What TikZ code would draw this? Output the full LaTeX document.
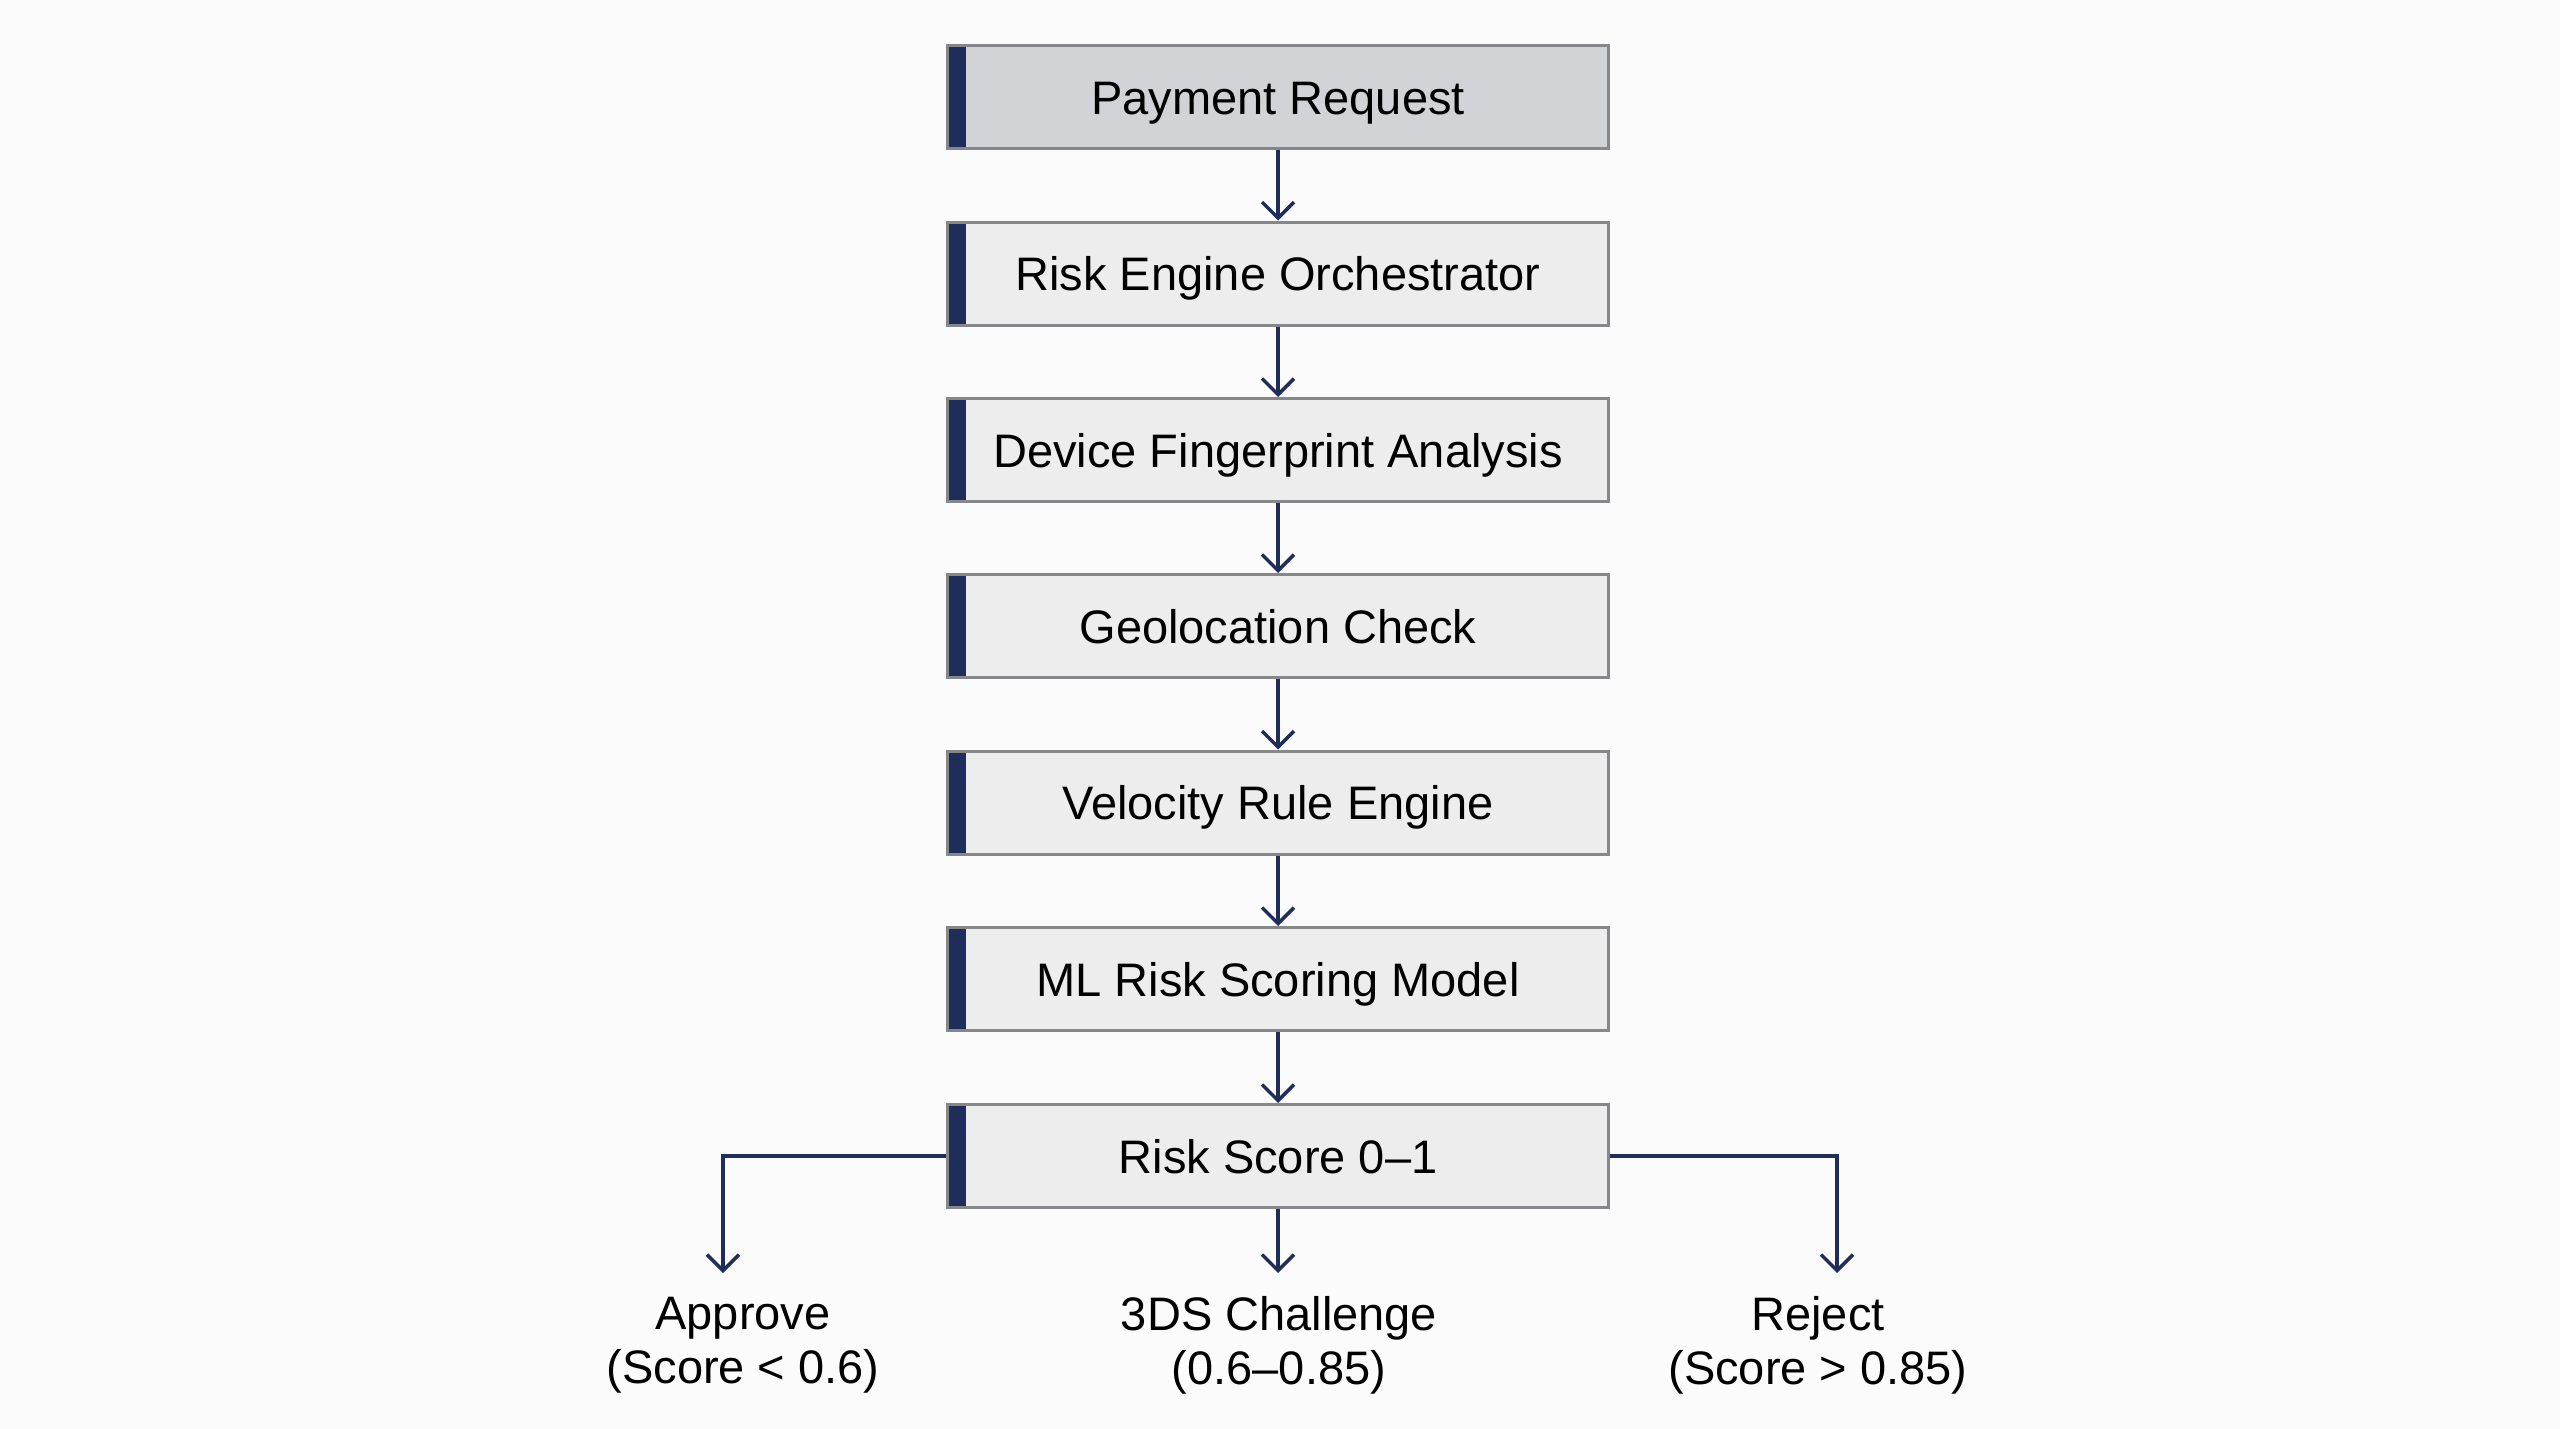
\documentclass[tikz,border=0pt]{standalone}
\usepackage{fontspec}
\setmainfont{Liberation Sans}
\usetikzlibrary{arrows.meta}
\definecolor{navy}{HTML}{1F2D5A}
\definecolor{boxline}{HTML}{85878A}
\definecolor{boxfill}{HTML}{EDEDED}
\definecolor{topfill}{HTML}{D2D3D6}
\definecolor{bg}{HTML}{FBFBFB}
\begin{document}
\begin{tikzpicture}[x=1pt,y=-1pt,
  box/.style={draw=boxline, line width=3pt, fill=boxfill, minimum width=661pt, minimum height=103pt, inner sep=0pt,
    text height=34pt, text depth=0pt,
    font=\fontsize{47}{54}\selectfont,
    path picture={\fill[navy] (path picture bounding box.south west) rectangle ([xshift=18pt]path picture bounding box.north west);}},
  conn/.style={draw=navy, line width=3.5pt, -{Straight Barb[length=16pt,width=32pt,line width=3.5pt]}},
  outlabel/.style={align=center, inner sep=0pt, font=\fontsize{47}{54}\selectfont}]
\useasboundingbox[fill=bg] (0,0) rectangle (2560,1429);
\node[box, fill=topfill] (b1) at (1278,97) {Payment Request};
\node[box] (b2) at (1278,273.5) {Risk Engine Orchestrator};
\node[box] (b3) at (1278,450) {Device Fingerprint Analysis};
\node[box] (b4) at (1278,626) {Geolocation Check};
\node[box] (b5) at (1278,802.5) {Velocity Rule Engine};
\node[box] (b6) at (1278,979) {ML Risk Scoring Model};
\node[box] (b7) at (1278,1156) {Risk Score 0--1};
\draw[conn] (b1.south) -- (b2.north);
\draw[conn] (b2.south) -- (b3.north);
\draw[conn] (b3.south) -- (b4.north);
\draw[conn] (b4.south) -- (b5.north);
\draw[conn] (b5.south) -- (b6.north);
\draw[conn] (b6.south) -- (b7.north);
\coordinate (aL) at (723,1273);
\coordinate (aM) at (1278,1273);
\coordinate (aR) at (1837,1273);
\draw[conn] (b7.west) -| (aL);
\draw[conn] (b7.south) -- (aM);
\draw[conn] (b7.east) -| (aR);
\node[outlabel] (l1) at (743,1345) {Approve\\(Score < 0.6)};
\node[outlabel] (l2) at (1279,1345) {3DS Challenge\\(0.6--0.85)};
\node[outlabel] (l3) at (1818,1345) {Reject\\(Score > 0.85)};
\end{tikzpicture}
\end{document}
